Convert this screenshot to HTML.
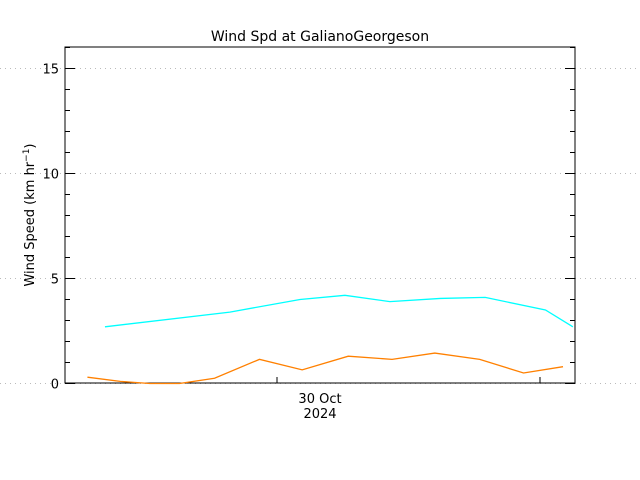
<!DOCTYPE html>
<html><head><meta charset="utf-8"><style>
html,body{margin:0;padding:0;background:#fff;}
svg{display:block;font-family:"DejaVu Sans","Liberation Sans",sans-serif;}
</style></head><body>
<svg id="chart" width="640" height="480" viewBox="0 0 640 480">
<text x="320" y="41" text-anchor="middle" font-size="14">Wind Spd at GalianoGeorgeson</text>
<g id="grid"></g>
<g id="axes"></g>
<g id="series"></g>
<text transform="translate(34,215) rotate(-90)" text-anchor="middle" font-size="13">Wind Speed (km hr<tspan dy="-5" font-size="9">−1</tspan><tspan dy="5">)</tspan></text>
<text x="320" y="403" text-anchor="middle" font-size="13">30 Oct</text>
<text x="320" y="418" text-anchor="middle" font-size="13">2024</text>
</svg>
<script>
const cyanHours=[-15.7,-4.3,2.1,6.2,10.3,14.9,19.0,24.5,27.0];
const cyanValues=[2.7,3.4,4.0,4.2,3.9,4.05,4.1,3.5,2.7];
const orangeHours=[-17.3,-14.3,-11.6,-8.9,-5.7,-1.6,2.3,6.5,10.5,14.4,18.5,22.5,26.1];
const orangeValues=[0.3,0.1,0.0,0.0,0.25,1.15,0.65,1.3,1.15,1.45,1.15,0.5,0.8];
const yMajorTicks=[0,5,10,15];
const xTickHours=[0,24];
const L=65,R=575,T=47,B=383;
const xs=h=>277+h*(263/24);
const ys=v=>383.5-v*21;
const NS="http://www.w3.org/2000/svg";
function mk(tag,parent,attrs){const e=document.createElementNS(NS,tag);for(const k in attrs)e.setAttribute(k,attrs[k]);parent.appendChild(e);return e;}
const grid=document.getElementById('grid'),axes=document.getElementById('axes'),series=document.getElementById('series');
yMajorTicks.forEach(v=>{
 const g=mk('line',grid,{x1:0,x2:640,y1:ys(v),y2:ys(v),stroke:'#bbb','stroke-dasharray':'1,4'});
 
 
 const t=mk('text',axes,{x:L-6,y:ys(v)+5,'text-anchor':'end','font-size':13});
 t.textContent=v;
 
 
});
const fr=mk('rect',axes,{x:L,y:T,width:R-L,height:B-T,fill:'none',stroke:'#000'});


for(let v=0;v<=16;v++){
 const len=v%5===0?10:5;
 const a=mk('line',axes,{x1:L,x2:L+len,y1:ys(v),y2:ys(v),stroke:'#000'});
 
 
 const b=mk('line',axes,{x1:R-len,x2:R,y1:ys(v),y2:ys(v),stroke:'#000'});
 
 
}
xTickHours.forEach(h=>{
 const t=mk('line',axes,{x1:xs(h),x2:xs(h),y1:B,y2:B-6,stroke:'#000'});
 
 
});
function line(hs,vs,color,name){
 const p=mk('polyline',series,{points:hs.map((h,i)=>xs(h)+','+ys(vs[i])).join(' '),fill:'none',stroke:color,'stroke-width':1.3});
 
 
}
line(cyanHours,cyanValues,'#00ffff','series-cyan-line');
line(orangeHours,orangeValues,'#ff8000','series-orange-line');
</script>
</body></html>
